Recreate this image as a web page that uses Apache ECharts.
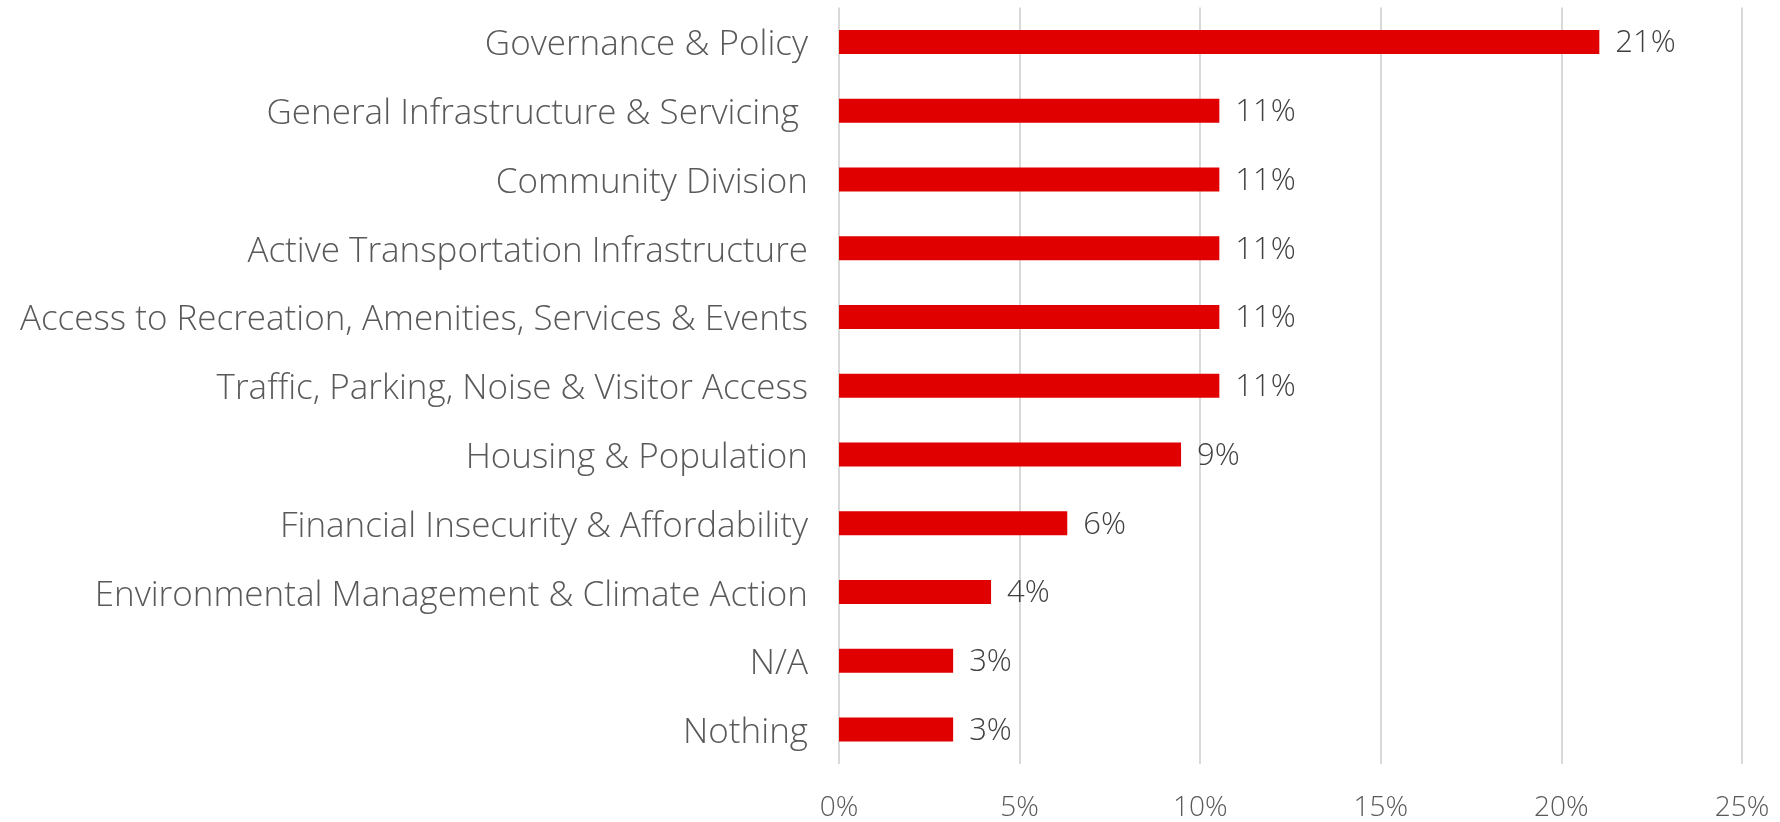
<!DOCTYPE html>
<html>
<head>
<meta charset="utf-8">
<script src="https://cdn.jsdelivr.net/npm/echarts@6/dist/echarts.min.js"></script>
<style>
  html, body { margin: 0; padding: 0; background: #fff; }
  #chart { width: 1780px; height: 822px; }
</style>
</head>
<body>
<div id="chart"></div>
<script>
  // categories, top to bottom
  const themes = [
    'Governance & Policy',
    'General Infrastructure & Servicing ',
    'Community Division',
    'Active Transportation Infrastructure',
    'Access to Recreation, Amenities, Services & Events',
    'Traffic, Parking, Noise & Visitor Access',
    'Housing & Population',
    'Financial Insecurity & Affordability',
    'Environmental Management & Climate Action',
    'N/A',
    'Nothing'
  ];
  // share of responses, %
  const shares = [21.05, 10.53, 10.53, 10.53, 10.53, 10.53, 9.47, 6.32, 4.21, 3.16, 3.16];
  // x axis ticks
  const xTicks = [0, 5, 10, 15, 20, 25];

  const FONT = "'Open Sans', sans-serif";
  const GREY = '#595959';

  let chart = echarts.init(document.getElementById('chart'));

  chart.setOption({
    animation: false,
    grid: {
      left: 839,
      right: 38,
      top: 7.5,
      bottom: 56.5
    },
    xAxis: {
      type: 'value',
      min: xTicks[0],
      max: xTicks[xTicks.length - 1],
      interval: 5,
      axisLine: { show: false },
      axisTick: { show: false },
      splitLine: {
        show: true,
        lineStyle: { color: '#d9d9d9', width: 2 }
      },
      axisLabel: {
        formatter: '{value}%',
        color: GREY,
        fontFamily: FONT,
        fontWeight: 300,
        fontSize: 28,
        margin: 30
      }
    },
    yAxis: {
      type: 'category',
      inverse: true,
      data: themes,
      axisLine: { show: false },
      axisTick: { show: false },
      axisLabel: {
        margin: 31,
        formatter: v => '{t|' + v + '}',
        rich: {
          t: {
            color: GREY,
            fontFamily: FONT,
            fontWeight: 300,
            fontSize: 35,
            padding: [7, 0, 0, 0]
          }
        }
      }
    },
    series: [{
      type: 'bar',
      data: shares,
      barWidth: 24,
      itemStyle: { color: '#e00000' },
      label: {
        show: true,
        position: 'right',
        distance: 16,
        formatter: p => '{v|' + Math.round(p.value) + '%}',
        rich: {
          v: {
            color: '#404040',
            fontFamily: FONT,
            fontWeight: 300,
            fontSize: 31,
            padding: [3, 0, 0, 0]
          }
        }
      }
    }]
  });
</script>
</body>
</html>
